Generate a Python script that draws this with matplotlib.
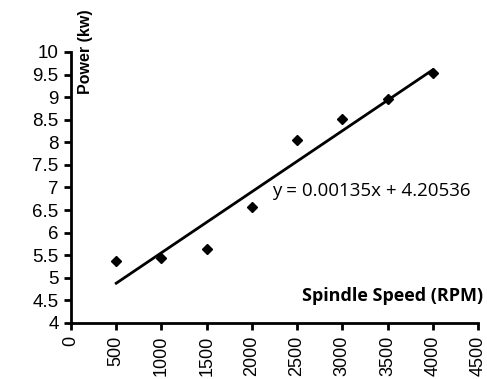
import matplotlib
matplotlib.use("Agg")
import matplotlib.pyplot as plt
import numpy as np

speed = [500, 1000, 1500, 2000, 2500, 3000, 3500, 4000]
power = [5.38, 5.44, 5.63, 6.56, 8.06, 8.51, 8.95, 9.53]
slope = 0.00135
intercept = 4.20536
xticks = list(range(0, 4501, 500))
yticks = [4, 4.5, 5, 5.5, 6, 6.5, 7, 7.5, 8, 8.5, 9, 9.5, 10]
ytick_labels = ["4", "4.5", "5", "5.5", "6", "6.5", "7", "7.5", "8", "8.5", "9", "9.5", "10"]

fig = plt.figure(figsize=(4.87, 3.79), dpi=100)
ax = fig.add_axes([0.1458, 0.1478, 0.8357, 0.715])

ax.plot(speed, power, linestyle="none", marker="D", markersize=5.5, color="black")
xs = np.array([speed[0], speed[-1]])
ax.plot(xs, slope * xs + intercept, color="black", linewidth=2)

ax.set_xlim(0, 4500)
ax.set_ylim(4, 10)
ax.set_xticks(xticks)
ax.set_xticklabels([str(v) for v in xticks], rotation=90, fontsize=13, family="Liberation Sans")
ax.set_yticks(yticks)
ax.set_yticklabels(ytick_labels, fontsize=13.5, family="Liberation Sans")
ax.tick_params(direction="out", length=5, width=2, pad=4)

for s in ["top", "right"]:
    ax.spines[s].set_visible(False)
for s in ["left", "bottom"]:
    ax.spines[s].set_linewidth(2)

ax.text(0.035, 1.0, "Power (kw)", transform=ax.transAxes, rotation=90,
        ha="center", va="center", fontsize=11.5, fontweight="bold",
        family="Liberation Sans", clip_on=False)
ax.text(2223, 6.92, "y = 0.00135x + 4.20536", ha="left", va="center",
        fontsize=13.5, family="Open Sans")
ax.text(4560, 4.6, "Spindle Speed (RPM)", ha="right", va="center",
        fontsize=13, fontweight="bold", family="Open Sans", clip_on=False)

fig.savefig("out.png", dpi=100)
